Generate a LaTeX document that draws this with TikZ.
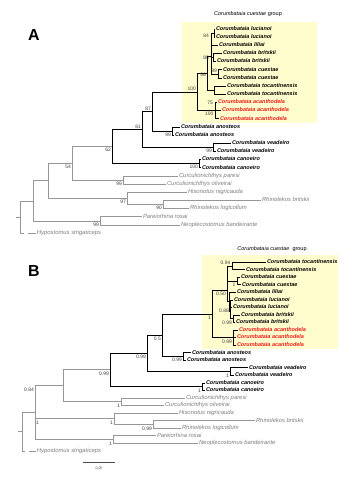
\documentclass[tikz,border=0pt]{standalone}
\usepackage{fontspec}
\setmainfont{Liberation Sans}
\usetikzlibrary{calc,positioning}
\tikzset{>=latex}
\definecolor{cuestaebox}{RGB}{255,253,205}
\definecolor{outgray}{RGB}{125,125,125}
\definecolor{acanred}{RGB}{235,25,25}
\newcommand{\tipfont}{\fontsize{5.5}{6}\selectfont}
\newcommand{\outfont}{\fontsize{5.9}{6}\selectfont}
\tikzset{
  taxon/.style={anchor=west, inner sep=0.8bp, text height=4bp, text depth=1.2bp, font=\tipfont\bfseries\itshape},
  redtaxon/.style={taxon, text=acanred},
  outtaxon/.style={anchor=west, inner sep=0.8bp, text height=4bp, text depth=1.2bp, font=\outfont\itshape, text=outgray},
  supp/.style={inner sep=0.4bp, font=\fontsize{5}{5}\selectfont, text=black!75},
  bl/.style={supp, anchor=north east},
  al/.style={supp, anchor=south east},
  ll/.style={supp, anchor=east},
  ing/.style={line width=0.6bp, black},
  outg/.style={line width=0.6bp, outgray!80},
  panel/.style={font=\fontsize{16}{16}\selectfont\bfseries}
}
\begin{document}
\begin{tikzpicture}[x=1bp,y=-1bp]
\useasboundingbox (0,0) rectangle (361,480);
\fill[cuestaebox] (182,22) rectangle (317,123);
\fill[cuestaebox] (202,255) rectangle (338,349);

\node[panel] (panelA) at (34,35) {A};
\node[panel] (panelB) at (34,271) {B};
\node[font=\tipfont] (groupA) at (248,14) {\textit{Corumbataia cuestae} group};
\node[font=\tipfont] (groupB) at (272,249) {\textit{Corumbataia cuestae}\ \ group};

% tree A
\node[taxon] (a1) at (215,29.0) {Corumbataia lucianoi};
\node[taxon] (a2) at (215,37.2) {Corumbataia lucianoi};
\node[taxon] (a3) at (218,45.3) {Corumbataia liliai};
\node[taxon] (a4) at (222,53.5) {Corumbataia britskii};
\node[taxon] (a5) at (216,61.6) {Corumbataia britskii};
\node[taxon] (a6) at (222,69.8) {Corumbataia cuestae};
\node[taxon] (a7) at (222,78.0) {Corumbataia cuestae};
\node[taxon] (a8) at (226,86.1) {Corumbataia tocantinensis};
\node[taxon] (a9) at (226,94.3) {Corumbataia tocantinensis};
\node[redtaxon] (a10) at (217,102.4) {Corumbataia acanthodela};
\node[redtaxon] (a11) at (221,110.6) {Corumbataia acanthodela};
\node[redtaxon] (a12) at (219,118.8) {Corumbataia acanthodela};
\node[taxon] (a13) at (180,126.9) {Corumbataia anosteos};
\node[taxon] (a14) at (174,135.1) {Corumbataia anosteos};
\node[taxon] (a15) at (231,143.2) {Corumbataia veadeiro};
\node[taxon] (a16) at (216,151.4) {Corumbataia veadeiro};
\node[taxon] (a17) at (201,159.6) {Corumbataia canoeiro};
\node[taxon] (a18) at (201,167.7) {Corumbataia canoeiro};
\node[outtaxon] (a19) at (178,175.9) {Curculionichthys paresi};
\node[outtaxon] (a20) at (166,184.0) {Curculionichthys oliveirai};
\node[outtaxon] (a21) at (187,192.2) {Hisonotus nigricauda};
\node[outtaxon] (a22) at (261,200.4) {Rhinolekos britskii};
\node[outtaxon] (a23) at (189,208.5) {Rhinolekos logicollum};
\node[outtaxon] (a24) at (142,216.7) {Pareiorhina rosai};
\node[outtaxon] (a25) at (180,224.8) {Neoplecostomus bandeirante};
\node[outtaxon] (a26) at (36,233.0) {Hypostomus strigaticeps};

\coordinate (nLucA) at (214,33.1);
\coordinate (nLLA) at (211,39.2);
\coordinate (nBriA) at (213,57.5);
\coordinate (nCueA) at (218,73.9);
\coordinate (nGA) at (211,56);
\coordinate (nTocA) at (214,90.2);
\coordinate (n96A) at (207,73);
\coordinate (nAcA) at (215,110.6);
\coordinate (nCrA) at (197,92);
\coordinate (nAnA) at (172,131);
\coordinate (n87A) at (152,111.5);
\coordinate (nVeA) at (213,147.3);
\coordinate (n81A) at (142,129.4);
\coordinate (nCaA) at (199,163.6);
\coordinate (n62A) at (112,146.5);
\coordinate (nCuA) at (123,180);
\coordinate (n54A) at (72,163.3);
\coordinate (nRhA) at (163,204.4);
\coordinate (nHiA) at (127,198.3);
\coordinate (n48A) at (48,180.8);
\coordinate (nPNA) at (100,220.8);
\coordinate (n33A) at (33,200.8);
\coordinate (rootA) at (20,216.9);
\coordinate (stubA) at (16,216.9);
\coordinate (hypgapA) at (24,233.0);
\coordinate (hypcontA) at (28,233.0);

\draw[ing] (nLucA) |- (a1.west) (nLucA) |- (a2.west);
\draw[ing] (nLLA) |- (nLucA) (nLLA) |- (a3.west);
\draw[ing] (nBriA) |- (a4.west) (nBriA) |- (a5.west);
\draw[ing] (nCueA) |- (a6.west) (nCueA) |- (a7.west);
\draw[ing] (nGA) |- (nLLA) (nGA) |- (nBriA) (nGA) |- (nCueA);
\draw[ing] (nTocA) |- (a8.west) (nTocA) |- (a9.west);
\draw[ing] (n96A) |- (nGA) (n96A) |- (nTocA);
\draw[ing] (nAcA) |- (a10.west) (nAcA) |- (a11.west) (nAcA) |- (a12.west);
\draw[ing] (nCrA) |- (n96A) (nCrA) |- (nAcA);
\draw[ing] (nAnA) |- (a13.west) (nAnA) |- (a14.west);
\draw[ing] (n87A) |- (nCrA) (n87A) |- (nAnA);
\draw[ing] (nVeA) |- (a15.west) (nVeA) |- (a16.west);
\draw[ing] (n81A) |- (n87A) (n81A) |- (nVeA);
\draw[ing] (nCaA) |- (a17.west) (nCaA) |- (a18.west);
\draw[ing] (n62A) |- (n81A) (n62A) |- (nCaA);
\draw[outg] (n54A) |- (n62A) (n54A) |- (nCuA);
\draw[outg] (nCuA) |- (a19.west) (nCuA) |- (a20.west);
\draw[outg] (nRhA) |- (a22.west) (nRhA) |- (a23.west);
\draw[outg] (nHiA) |- (a21.west) (nHiA) |- (nRhA);
\draw[outg] (n48A) |- (n54A) (n48A) |- (nHiA);
\draw[outg] (nPNA) |- (a24.west) (nPNA) |- (a25.west);
\draw[outg] (n33A) |- (n48A) (n33A) |- (nPNA);
\draw[outg] (stubA) -- (rootA) |- (n33A) (rootA) |- (hypgapA);
\draw[outg] (hypcontA) -- (a26.west);

\node[ll] (s84A) at (209.5,36) {84};
\node[ll] (s80A) at (209.5,58) {80};
\node[al] (s99cA) at (217.5,73) {99};
\node[ll] (s96A) at (206.5,75) {96};
\node[bl] (s75A) at (213.5,100) {75};
\node[ll] (s100aA) at (214,113.5) {100};
\node[al] (s100cA) at (196.5,91.5) {100};
\node[al] (s87A) at (151.5,111) {87};
\node[bl] (s99nA) at (171.5,132) {99};
\node[al] (s81A) at (141.5,129) {81};
\node[bl] (s99vA) at (212.5,148.5) {99};
\node[bl] (s100kA) at (198.5,164.5) {100};
\node[bl] (s62A) at (111.5,147.5) {62};
\node[bl] (s99uA) at (122.5,181) {99};
\node[bl] (s54A) at (71.5,164.3) {54};
\node[bl] (s97A) at (126.5,199.5) {97};
\node[bl] (s90A) at (162.5,205.5) {90};
\node[bl] (s99pA) at (99.5,222) {99};

% tree B
\node[taxon] (b1) at (266,262.0) {Corumbataia tocantinensis};
\node[taxon] (b2) at (245,269.6) {Corumbataia tocantinensis};
\node[taxon] (b3) at (240,277.1) {Corumbataia cuestae};
\node[taxon] (b4) at (241,284.7) {Corumbataia cuestae};
\node[taxon] (b5) at (236,292.2) {Corumbataia liliai};
\node[taxon] (b6) at (233,299.8) {Corumbataia lucianoi};
\node[taxon] (b7) at (232,307.3) {Corumbataia lucianoi};
\node[taxon] (b8) at (240,314.9) {Corumbataia britskii};
\node[taxon] (b9) at (235,322.4) {Corumbataia britskii};
\node[redtaxon] (b10) at (238,330.0) {Corumbataia acanthodela};
\node[redtaxon] (b11) at (236,337.5) {Corumbataia acanthodela};
\node[redtaxon] (b12) at (236,345.1) {Corumbataia acanthodela};
\node[taxon] (b13) at (191,352.6) {Corumbataia anosteos};
\node[taxon] (b14) at (186,360.2) {Corumbataia anosteos};
\node[taxon] (b15) at (248,367.7) {Corumbataia veadeiro};
\node[taxon] (b16) at (234,375.3) {Corumbataia veadeiro};
\node[taxon] (b17) at (205,382.8) {Corumbataia canoeiro};
\node[taxon] (b18) at (205,390.4) {Corumbataia canoeiro};
\node[outtaxon] (b19) at (185,397.9) {Curculionichthys paresi};
\node[outtaxon] (b20) at (164,405.5) {Curculionichthys oliveirai};
\node[outtaxon] (b21) at (178,413.0) {Hisonotus nigricauda};
\node[outtaxon] (b22) at (255,420.6) {Rhinolekos britskii};
\node[outtaxon] (b23) at (181,428.1) {Rhinolekos logicollum};
\node[outtaxon] (b24) at (156,435.7) {Pareiorhina rosai};
\node[outtaxon] (b25) at (198,443.2) {Neoplecostomus bandeirante};
\node[outtaxon] (b26) at (36,450.8) {Hypostomus strigaticeps};

\coordinate (nToB) at (232,265.8);
\coordinate (nCuB) at (237,280.9);
\coordinate (nLuB) at (230,303.6);
\coordinate (nBrB) at (233,318.7);
\coordinate (n88B) at (230.5,311);
\coordinate (nLiB) at (229,301);
\coordinate (n50B) at (227,290);
\coordinate (nAcB) at (233,337.5);
\coordinate (nCrB) at (212,314);
\coordinate (nAnB) at (183,356.4);
\coordinate (n05B) at (162,335);
\coordinate (nVeB) at (230,371.5);
\coordinate (n47B) at (147,353);
\coordinate (nCaB) at (202,386.6);
\coordinate (n10B) at (110,369.5);
\coordinate (nCcB) at (121,401.7);
\coordinate (n63B) at (63,385.6);
\coordinate (nRhB) at (153,424.4);
\coordinate (nHiB) at (114,418.7);
\coordinate (nPNB) at (113,439.5);
\coordinate (n35B) at (35,412.5);
\coordinate (rootB) at (22,431.7);
\coordinate (stubB) at (18,431.7);
\coordinate (hypgapB) at (25,450.8);
\coordinate (hypcontB) at (29,450.8);
\coordinate (scaleL) at (83,462);
\coordinate (scaleR) at (115,462);

\draw[ing] (nToB) |- (b1.west) (nToB) |- (b2.west);
\draw[ing] (nCuB) |- (b3.west) (nCuB) |- (b4.west);
\draw[ing] (nLuB) |- (b6.west) (nLuB) |- (b7.west);
\draw[ing] (nBrB) |- (b8.west) (nBrB) |- (b9.west);
\draw[ing] (n88B) |- (nLuB) (n88B) |- (nBrB);
\draw[ing] (nLiB) |- (b5.west) (nLiB) |- (n88B);
\draw[ing] (n50B) |- (nToB) (n50B) |- (nCuB) (n50B) |- (nLiB);
\draw[ing] (nAcB) |- (b10.west) (nAcB) |- (b11.west) (nAcB) |- (b12.west);
\draw[ing] (nCrB) |- (n50B) (nCrB) |- (nAcB);
\draw[ing] (nAnB) |- (b13.west) (nAnB) |- (b14.west);
\draw[ing] (n05B) |- (nCrB) (n05B) |- (nAnB);
\draw[ing] (nVeB) |- (b15.west) (nVeB) |- (b16.west);
\draw[ing] (n47B) |- (n05B) (n47B) |- (nVeB);
\draw[ing] (nCaB) |- (b17.west) (nCaB) |- (b18.west);
\draw[ing] (n10B) |- (n47B) (n10B) |- (nCaB);
\draw[outg] (nCcB) |- (b19.west) (nCcB) |- (b20.west);
\draw[outg] (n63B) |- (n10B) (n63B) |- (nCcB);
\draw[outg] (nRhB) |- (b22.west) (nRhB) |- (b23.west);
\draw[outg] (nHiB) |- (b21.west) (nHiB) |- (nRhB);
\draw[outg] (nPNB) |- (b24.west) (nPNB) |- (b25.west);
\draw[outg] (n35B) |- (n63B) (n35B) |- (nHiB) (n35B) |- (nPNB);
\draw[outg] (stubB) -- (rootB) |- (n35B) (rootB) |- (hypgapB);
\draw[outg] (hypcontB) -- (b26.west);
\draw[line width=0.5bp, black!70] (scaleL) -- (scaleR)
  node[midway, below=1bp, font=\fontsize{3.5}{4}\selectfont] (scaletxt) {0.05};

\node[ll] (s94B) at (231,263) {0.94};
\node[bl] (s1cB) at (236,282) {1};
\node[bl] (s50B) at (226.5,291) {0.50};
\node[bl] (s88B) at (229.5,308) {0.88};
\node[bl] (s99bB) at (232.5,320) {0.99};
\node[bl] (s1rB) at (211.5,315.5) {1};
\node[bl] (s99aB) at (232.5,339) {0.99};
\node[bl] (s99nB) at (182.5,357.5) {0.99};
\node[bl] (s5B) at (161.5,336.5) {0.5};
\node[bl] (s1vB) at (229.5,373) {1};
\node[bl] (s99mB) at (146.5,354.5) {0.99};
\node[bl] (s1kB) at (201.5,388) {1};
\node[bl] (s99kB) at (109.5,371) {0.99};
\node[bl] (s1uB) at (120.5,403) {1};
\node[bl] (s84B) at (34.5,387) {0.84};
\node[bl] (s99rB) at (152.5,426) {0.99};
\node[bl] (s1hB) at (113.5,420) {1};
\node[bl] (s1pB) at (112.5,441) {1};
\node[supp, anchor=north west] (s1oB) at (35.5,420) {1};
\end{tikzpicture}
\end{document}
